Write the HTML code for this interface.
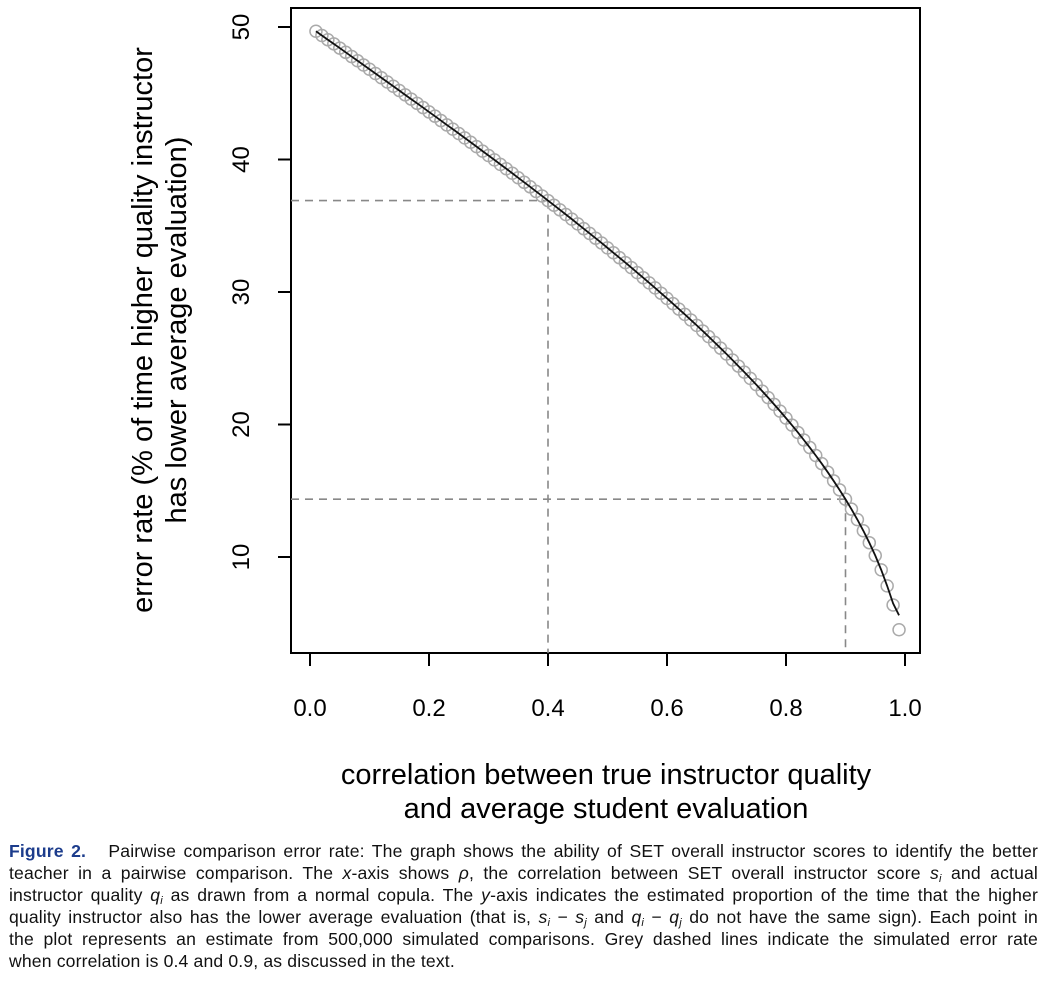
<!DOCTYPE html>
<html><head><meta charset="utf-8"><style>
body{margin:0;background:#fff;width:1051px;height:987px;overflow:hidden;position:relative;font-family:"Liberation Sans",sans-serif}
#cap{position:absolute;left:9px;top:840px;width:1029px;font-size:17.6px;line-height:22px;color:#111;letter-spacing:0.15px}
#cap div{text-align:justify;text-align-last:justify;white-space:nowrap;height:22px}
#cap div.last{text-align-last:left}
#cap b{color:#1c3c8c}
#cap sub{font-size:11px;line-height:0;vertical-align:-3px}
</style></head><body>
<svg id="chart" width="1051" height="830" style="position:absolute;left:0;top:0" font-family="Liberation Sans, sans-serif"></svg>
<div id="cap">
<div style="white-space:normal"><b>Figure 2.</b>&nbsp;&nbsp; Pairwise comparison error rate: The graph shows the ability of SET overall instructor scores to identify the better</div>
<div style="white-space:normal">teacher in a pairwise comparison. The <i>x</i>-axis shows <i>ρ</i>, the correlation between SET overall instructor score <i>s<sub>i</sub></i> and actual</div>
<div style="white-space:normal">instructor quality <i>q<sub>i</sub></i> as drawn from a normal copula. The <i>y</i>-axis indicates the estimated proportion of the time that the higher</div>
<div style="white-space:normal">quality instructor also has the lower average evaluation (that is, <i>s<sub>i</sub></i> − <i>s<sub>j</sub></i> and <i>q<sub>i</sub></i> − <i>q<sub>j</sub></i> do not have the same sign). Each point in</div>
<div style="white-space:normal">the plot represents an estimate from 500,000 simulated comparisons. Grey dashed lines indicate the simulated error rate</div>
<div class="last">when correlation is 0.4 and 0.9, as discussed in the text.</div>
</div>
<script>
const correlations=[0.01,0.02,0.03,0.04,0.05,0.06,0.07,0.08,0.09,0.10,0.11,0.12,0.13,0.14,0.15,0.16,0.17,0.18,0.19,0.20,0.21,0.22,0.23,0.24,0.25,0.26,0.27,0.28,0.29,0.30,0.31,0.32,0.33,0.34,0.35,0.36,0.37,0.38,0.39,0.40,0.41,0.42,0.43,0.44,0.45,0.46,0.47,0.48,0.49,0.50,0.51,0.52,0.53,0.54,0.55,0.56,0.57,0.58,0.59,0.60,0.61,0.62,0.63,0.64,0.65,0.66,0.67,0.68,0.69,0.70,0.71,0.72,0.73,0.74,0.75,0.76,0.77,0.78,0.79,0.80,0.81,0.82,0.83,0.84,0.85,0.86,0.87,0.88,0.89,0.90,0.91,0.92,0.93,0.94,0.95,0.96,0.97,0.98,0.99];
const errorRates=[49.68,49.36,49.04,48.73,48.41,48.09,47.77,47.45,47.13,46.81,46.49,46.17,45.85,45.53,45.21,44.88,44.56,44.24,43.92,43.59,43.27,42.94,42.61,42.29,41.96,41.63,41.30,40.97,40.63,40.30,39.97,39.63,39.30,38.96,38.62,38.28,37.94,37.59,37.25,36.90,36.55,36.20,35.85,35.50,35.14,34.78,34.42,34.06,33.70,33.33,32.96,32.59,32.22,31.84,31.46,31.08,30.69,30.31,29.91,29.52,29.12,28.71,28.31,27.89,27.48,27.06,26.63,26.20,25.76,25.32,24.87,24.41,23.95,23.48,23.01,22.52,22.03,21.52,21.01,20.48,19.95,19.40,18.83,18.26,17.66,17.05,16.41,15.75,15.07,14.36,13.61,12.82,11.98,11.08,10.11,9.03,7.82,6.38,4.51];
const curveRates=[49.68,49.36,49.04,48.73,48.41,48.09,47.77,47.45,47.13,46.81,46.49,46.17,45.85,45.53,45.21,44.88,44.56,44.24,43.92,43.59,43.27,42.94,42.61,42.29,41.96,41.63,41.30,40.97,40.63,40.30,39.97,39.63,39.30,38.96,38.62,38.28,37.94,37.59,37.25,36.90,36.55,36.20,35.85,35.50,35.14,34.78,34.42,34.06,33.70,33.33,32.96,32.59,32.22,31.84,31.46,31.08,30.69,30.31,29.91,29.52,29.12,28.71,28.31,27.89,27.48,27.06,26.63,26.20,25.76,25.32,24.87,24.41,23.95,23.48,23.01,22.52,22.03,21.52,21.01,20.48,19.95,19.40,18.83,18.26,17.66,17.05,16.41,15.75,15.07,14.36,13.61,12.82,11.98,11.08,10.11,9.03,7.82,6.50,5.60];
const xTicks=[0,0.2,0.4,0.6,0.8,1.0];
const xTickLabels=["0.0","0.2","0.4","0.6","0.8","1.0"];
const yTicks=[10,20,30,40,50];
const refX=[0.4,0.9];
const refY=[36.9,14.36];

const NS="http://www.w3.org/2000/svg";
const svg=document.getElementById('chart');
const X=v=>310+v*595;
const Y=v=>557-(v-10)*13.25;
function mk(t,a){const e=document.createElementNS(NS,t);for(const k in a)e.setAttribute(k,a[k]);svg.appendChild(e);return e;}

const box=mk('rect',{x:291,y:8,width:629,height:645,fill:'none',stroke:'#000','stroke-width':2});



refX.forEach((rx,i)=>{
  const ry=refY[i];
  const h=mk('line',{x1:291,y1:Y(ry),x2:X(rx),y2:Y(ry),stroke:'#888','stroke-width':1.6,'stroke-dasharray':'8,6'});
  
  
  const v=mk('line',{x1:X(rx),y1:Y(ry),x2:X(rx),y2:653,stroke:'#888','stroke-width':1.6,'stroke-dasharray':'8,6'});
  
  
});

correlations.forEach((c,i)=>{
  const p=mk('circle',{cx:X(c),cy:Y(errorRates[i]),r:6,fill:'none',stroke:'#aaa','stroke-width':1.5});
  
  
});
const line=mk('polyline',{points:correlations.map((c,i)=>X(c)+','+Y(curveRates[i])).join(' '),fill:'none',stroke:'#111','stroke-width':1.8});



xTicks.forEach((t,i)=>{
  const tk=mk('line',{x1:X(t),y1:653,x2:X(t),y2:666,stroke:'#000','stroke-width':2});
  
  
  const lb=mk('text',{x:X(t),y:716,'font-size':24,'text-anchor':'middle',fill:'#000'});
  lb.textContent=xTickLabels[i];
  
  
});
yTicks.forEach(t=>{
  const tk=mk('line',{x1:278,y1:Y(t),x2:291,y2:Y(t),stroke:'#000','stroke-width':2});
  
  
  const lb=mk('text',{x:0,y:0,'font-size':24,'text-anchor':'middle',fill:'#000',transform:`translate(249,${Y(t)}) rotate(-90)`});
  lb.textContent=String(t);
  
  
});
const yt1=mk('text',{x:0,y:0,'font-size':29,'text-anchor':'middle',transform:'translate(152,330) rotate(-90)'});
yt1.textContent='error rate (% of time higher quality instructor';


const yt2=mk('text',{x:0,y:0,'font-size':29,'text-anchor':'middle',transform:'translate(186,330) rotate(-90)'});
yt2.textContent='has lower average evaluation)';


const xt1=mk('text',{x:606,y:784,'font-size':29,'text-anchor':'middle'});
xt1.textContent='correlation between true instructor quality';


const xt2=mk('text',{x:606,y:818,'font-size':29,'text-anchor':'middle'});
xt2.textContent='and average student evaluation';


</script>
</body></html>
